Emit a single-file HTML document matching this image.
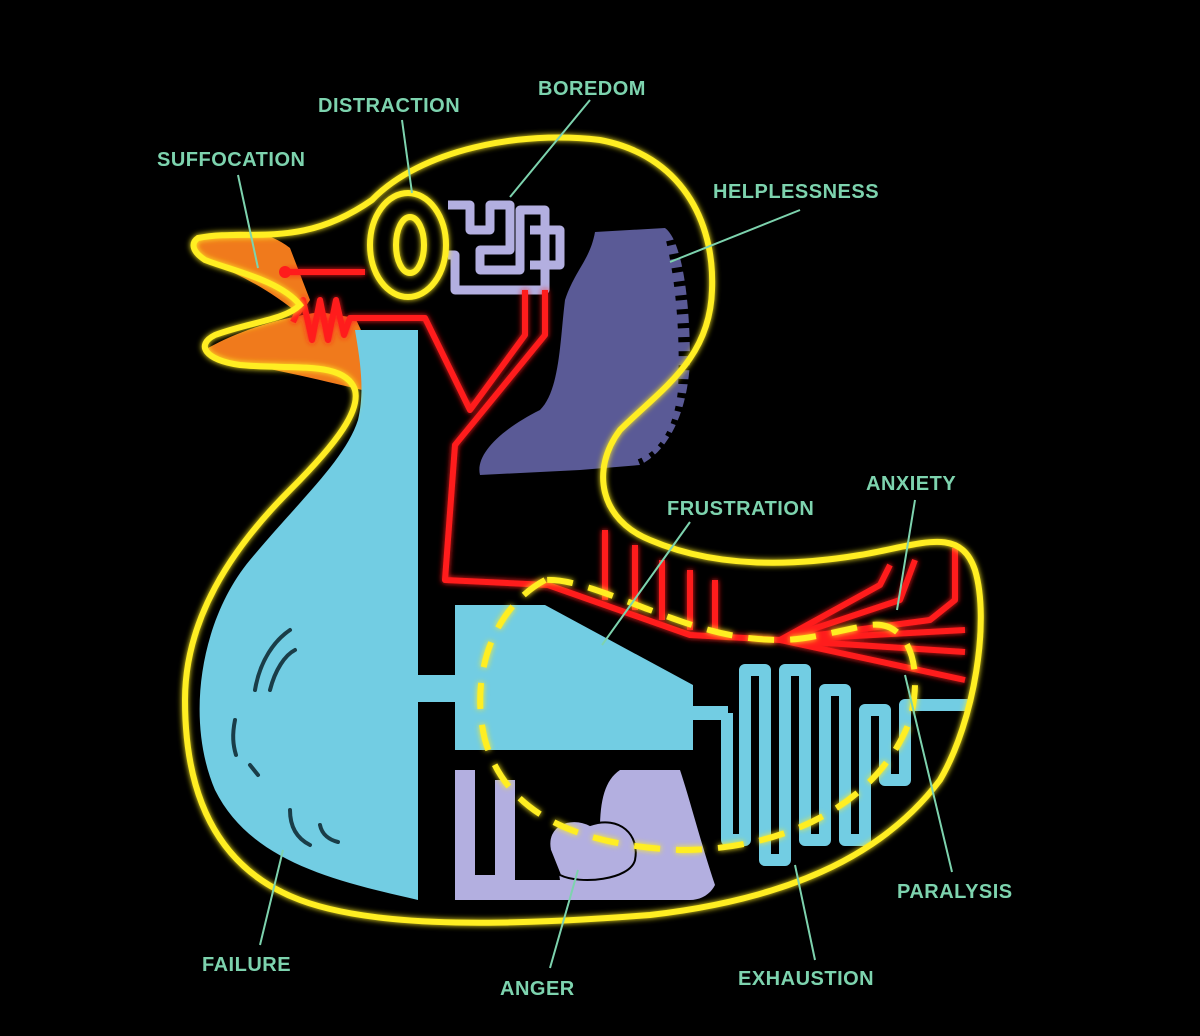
<!DOCTYPE html>
<html><head><meta charset="utf-8"><style>
html,body{margin:0;padding:0;background:#000;}
svg{display:block}
text{font-family:"Liberation Sans",sans-serif;font-size:20px;font-weight:bold;fill:#7dd3ae;letter-spacing:0.5px}
</style></head><body>
<svg width="1200" height="1036" viewBox="0 0 1200 1036" xmlns="http://www.w3.org/2000/svg">
<defs>
<filter id="g" x="-20%" y="-20%" width="140%" height="140%"><feGaussianBlur stdDeviation="3" result="b"/><feMerge><feMergeNode in="b"/><feMergeNode in="SourceGraphic"/></feMerge></filter>
</defs>
<rect width="1200" height="1036" fill="#000"/>
<!-- beak -->
<path d="M198,240 C230,228 265,228 290,248 L310,300 L300,315 C270,290 240,275 210,262 C195,255 192,246 198,240Z" fill="#f07a1c"/>
<path d="M208,348 C240,330 280,318 320,312 L355,318 C368,340 372,370 362,390 C320,380 270,368 230,362 C205,358 200,352 208,348Z" fill="#f07a1c"/>
<!-- blue neck/body -->
<path d="M355,330 L418,330 L418,900 C330,880 250,860 215,790 C185,720 200,620 250,560 C300,500 345,460 358,420 C365,390 360,360 355,330Z" fill="#72cde3"/>
<rect x="416" y="675" width="42" height="27" fill="#72cde3"/>
<path d="M455,605 L545,605 L693,685 L693,750 L455,750Z" fill="#72cde3"/>
<rect x="690" y="706" width="38" height="14" fill="#72cde3"/>
<path d="M727,713 L727,840 L745,840 L745,670 L765,670 L765,860 L785,860 L785,670 L805,670 L805,840 L825,840 L825,690 L845,690 L845,840 L865,840 L865,710 L885,710 L885,780 L905,780 L905,705 L970,705" fill="none" stroke="#72cde3" stroke-width="12" stroke-linejoin="round"/>
<g fill="none" stroke="#1a3d48" stroke-width="4" stroke-linecap="round">
<path d="M255,690 C260,660 275,640 290,630"/><path d="M270,690 C275,670 285,655 295,650"/>
<path d="M235,720 C232,735 233,745 236,755"/><path d="M250,765 L258,775"/>
<path d="M290,810 C290,830 300,840 310,845"/><path d="M320,825 C322,835 330,840 338,842"/>
</g>
<!-- helplessness -->
<path d="M595,232 L665,228 C682,240 690,300 690,360 C688,410 670,450 640,465 L580,470 L480,475 C475,455 500,430 540,410 C560,390 560,340 565,300 C575,270 590,260 595,232Z" fill="#5a5a96"/>
<path d="M672,240 C684,290 686,350 684,390 C680,430 665,455 640,465" fill="none" stroke="#000" stroke-width="12" stroke-dasharray="5 9"/>
<!-- boredom -->
<g fill="none" stroke="#b3afe0" stroke-width="9" stroke-linejoin="round">
<path d="M448,205 L470,205 L470,230 L490,230 L490,205 L510,205 L510,250 L480,250 L480,270 L520,270 L520,210 L545,210 L545,290 L455,290 L455,255 L448,255"/>
<path d="M530,230 L560,230 L560,265 L530,265"/>
</g>
<!-- anger -->
<path d="M455,770 L475,770 L475,875 L495,875 L495,780 L515,780 L515,880 L560,880 C555,850 570,830 600,830 C600,800 605,780 620,770 L680,770 C690,800 700,840 715,885 C710,895 700,900 690,900 L455,900Z" fill="#b3afe0"/>
<path d="M550,850 C545,825 570,815 590,825 C620,815 640,835 635,860 C630,880 580,885 560,875Z" fill="#b3afe0" stroke="#000" stroke-width="2"/>
<!-- red -->
<g fill="none" stroke="#ff1c1c" stroke-width="6" stroke-linejoin="round" filter="url(#g)">
<path d="M285,272 L365,272"/>
<path d="M293,322 L303,300 L312,340 L320,300 L328,340 L336,300 L344,335 L350,318 L425,318 L470,410 L525,335 L525,290"/>
<path d="M545,290 L545,335 L455,445 L445,580 L548,585 L690,635 L780,640 L965,652"/>
<path d="M780,640 L930,620 L955,600 L955,548"/><path d="M780,640 L965,630"/>
<path d="M780,640 L900,600 L915,560"/><path d="M780,640 L965,680"/>
<path d="M780,640 L880,585 L890,565"/>
<path d="M605,530 L605,600"/><path d="M635,545 L635,610"/><path d="M662,560 L662,620"/><path d="M690,570 L690,630"/><path d="M715,580 L715,635"/>
</g>
<circle cx="285" cy="272" r="6" fill="#ff1c1c"/>
<!-- yellow outline -->
<g fill="none" stroke="#ffee22" stroke-width="6" filter="url(#g)">
<path d="M198,238 C250,228 300,250 372,200 C420,150 520,130 600,140 C680,155 715,220 712,290 C710,360 660,390 620,430 C590,470 600,520 650,540 C720,570 800,565 860,555 C920,545 960,525 975,570 C990,620 975,720 940,780 C880,860 780,900 650,915 C520,925 380,930 300,900 C220,870 185,800 185,700 C185,620 230,550 290,490 C340,440 360,410 355,390 C345,360 290,370 240,365 C205,360 195,345 215,335 C250,322 285,320 300,305 C280,280 230,270 205,260 C190,250 192,242 198,238Z"/>
<ellipse cx="408" cy="245" rx="38" ry="52"/>
<ellipse cx="410" cy="245" rx="14" ry="28"/>
</g>
<path d="M545,580 C490,610 470,680 485,740 C505,810 570,845 680,850 C790,850 880,800 910,720 C925,660 905,620 870,625 C840,630 810,640 780,640 C730,640 690,625 650,610 C610,595 570,578 545,580Z" fill="none" stroke="#ffee22" stroke-width="6" stroke-dasharray="26 16" filter="url(#g)"/>
<g stroke="#7dd3ae" stroke-width="2">
<line x1="238" y1="175" x2="258" y2="268"/>
<line x1="402" y1="120" x2="412" y2="193"/>
<line x1="590" y1="100" x2="510" y2="197"/>
<line x1="800" y1="210" x2="670" y2="262"/>
<line x1="690" y1="522" x2="602" y2="645"/>
<line x1="915" y1="500" x2="897" y2="610"/>
<line x1="952" y1="872" x2="905" y2="675"/>
<line x1="815" y1="960" x2="795" y2="865"/>
<line x1="550" y1="968" x2="578" y2="870"/>
<line x1="260" y1="945" x2="283" y2="850"/>
</g>
<text x="157" y="166">SUFFOCATION</text>
<text x="318" y="112">DISTRACTION</text>
<text x="538" y="95">BOREDOM</text>
<text x="713" y="198">HELPLESSNESS</text>
<text x="667" y="515">FRUSTRATION</text>
<text x="866" y="490">ANXIETY</text>
<text x="897" y="898">PARALYSIS</text>
<text x="738" y="985">EXHAUSTION</text>
<text x="500" y="995">ANGER</text>
<text x="202" y="971">FAILURE</text>
</svg>
</body></html>
